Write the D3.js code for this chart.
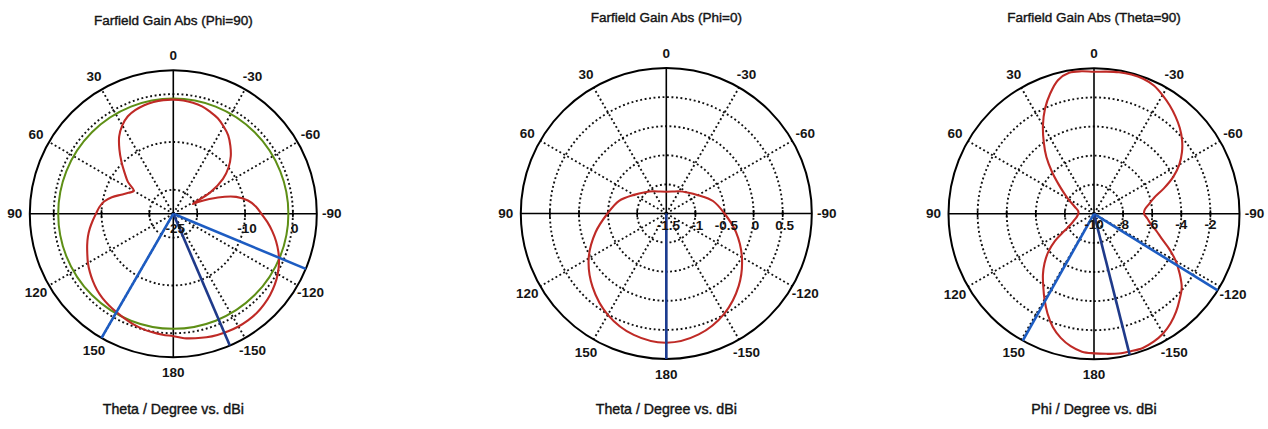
<!DOCTYPE html>
<html>
<head>
<meta charset="utf-8">
<script src="https://cdn.jsdelivr.net/npm/d3@7"></script>
<style>
  html, body { margin: 0; padding: 0; background: #ffffff; }
  svg { display: block; }
  text { font-family: "Liberation Sans", Arial, sans-serif; fill: #141414; }
  text.cap { stroke: #141414; stroke-width: 0.4; }
  text.num { font-weight: bold; }
</style>
</head>
<body>
<svg id="chart" width="1268" height="429"></svg>
<script>
// ---- Farfield cut Phi = 90 (theta in degrees, gain in dBi) ----
const phi90Theta = [0, 5, 10, 15, 20, 25, 30, 35, 40, 45, 50, 55, 60, 65, 70, 75, 80, 85, 90,
  95, 100, 105, 110, 115, 120, 125, 130, 135, 140, 145, 150, 155, 160, 165, 170, 175, 180,
  -175, -170, -165, -160, -155, -150, -145, -140, -135, -130, -125, -120, -115, -110, -105, -100, -95, -90,
  -85, -80, -75, -70, -65, -63.4, -60, -55, -50, -45, -40, -35, -30, -25, -20, -15, -10, -5];
const phi90Gain = [-1.16, -1.16, -1.27, -1.51, -1.92, -2.53, -3.67, -5.28, -7.47, -9.67, -11.72, -13.41, -15.48, -14.68, -13.40, -11.70, -10.31, -9.46, -8.84,
  -8.08, -7.28, -6.52, -5.84, -5.16, -4.39, -3.71, -3.06, -2.45, -1.97, -1.59, -1.25, -0.85, -0.42, -0.07, 0.17, 0.40, 0.61,
  1.13, 1.44, 1.75, 1.97, 2.12, 2.22, 2.22, 2.13, 1.83, 1.42, 0.89, 0.21, -0.62, -1.62, -2.76, -4.00, -5.28, -6.60,
  -7.68, -9.16, -11.39, -15.08, -19.07, -20.46, -16.00, -12.32, -9.90, -8.01, -6.45, -4.99, -3.95, -2.99, -2.36, -1.78, -1.44, -1.23];
const phi90Grid = [-20, -10, 0];
const phi90TickLabels = [-25, -10, 0];
const phi90Beams = [-112.6, -156.8, 150];
const phi90RefLevel = [-0.94];

// ---- Farfield cut Phi = 0 ----
const phi0Theta = [0, 15, 30, 45, 60, 75, 90, 105, 120, 135, 150, 165, 180,
  -165, -150, -135, -120, -105, -90, -75, -60, -45, -30, -15];
const phi0Gain = [-1.125, -1.11, -1.06, -0.985, -0.86, -0.66, -0.49, -0.24, 0.04, 0.29, 0.51, 0.66, 0.72,
  0.65, 0.49, 0.26, 0.0, -0.26, -0.50, -0.67, -0.87, -0.99, -1.06, -1.11];
const phi0Grid = [-1, -0.5, 0, 0.5];
const phi0TickLabels = [-1.5, -1, -0.5, 0, 0.5];
const phi0Beams = [180];

// ---- Farfield cut Theta = 90 (phi in degrees) ----
const theta90Phi = [0, 5, 10, 15, 20, 25, 30, 35, 40, 45, 50, 55, 60, 70, 80, 90, 100, 108, 115, 120,
  125, 130, 135, 140, 145, 150, 155, 160, 165, 170, 175, 180,
  -175, -170, -165, -160, -155, -150, -145, -140, -135, -130, -125, -120, -115, -110, -105, -100, -95, -90,
  -85, -80, -75, -70, -65, -60, -55, -50, -45, -40, -35, -30, -25, -20, -15, -10, -5];
const theta90Gain = [-0.24, -0.17, -0.16, -0.48, -1.20, -2.03, -2.98, -3.98, -4.91, -5.91, -6.80, -7.46, -7.94, -8.59, -8.90, -8.92, -8.80, -8.56, -8.21, -7.66,
  -6.70, -5.88, -5.19, -4.54, -3.92, -3.20, -2.44, -1.72, -1.17, -0.76, -0.49, -0.41,
  -0.34, -0.25, -0.22, -0.19, -0.30, -0.50, -0.82, -1.22, -1.68, -2.13, -2.81, -3.51, -4.30, -5.06, -5.59, -6.05, -6.32, -6.56,
  -6.49, -6.16, -5.72, -4.89, -3.99, -3.23, -2.62, -2.10, -1.66, -1.28, -0.92, -0.58, -0.27, -0.12, -0.09, -0.12, -0.19];
const theta90Grid = [-8, -6, -4, -2];
const theta90TickLabels = [-10, -8, -6, -4, -2];
const theta90Beams = [-121.8, -165.8, 150.7];

// ---- Shared angular labels ----
const angleLabels = [0, 30, 60, 90, 120, 150, 180, -150, -120, -90, -60, -30];
const spokeAngles = [30, 60, 120, 150, -30, -60, -120, -150];

const svg = d3.select("#chart");
const rad = deg => -deg * Math.PI / 180;   // counter-clockwise degrees -> d3 radial angle

function drawPanel(p) {
  const g = svg.append("g").attr("transform", `translate(${p.cx},${p.cy})`);
  const r = d3.scaleLinear().domain(p.domain).range([0, p.R]);
  const pos = (deg, rr) => [rr * Math.sin(rad(deg)), -rr * Math.cos(rad(deg))];

  // dotted grid circles
  g.selectAll("circle.grid").data(p.grid).join("circle")
    .attr("class", "grid").attr("r", d => r(d))
    .attr("fill", "none").attr("stroke", "#111").attr("stroke-width", 1.9)
    .attr("stroke-dasharray", "1.9,2.6");

  // dotted spokes
  g.selectAll("line.spoke").data(spokeAngles).join("line")
    .attr("class", "spoke")
    .attr("x1", 0).attr("y1", 0)
    .attr("x2", d => pos(d, p.R)[0]).attr("y2", d => pos(d, p.R)[1])
    .attr("stroke", "#111").attr("stroke-width", 1.9)
    .attr("stroke-dasharray", "1.9,2.6");

  // solid axes
  g.append("line").attr("x1", -p.R).attr("x2", p.R).attr("y1", 0).attr("y2", 0)
    .attr("stroke", "#000").attr("stroke-width", 1.6);
  g.append("line").attr("x1", 0).attr("x2", 0).attr("y1", -p.R).attr("y2", p.R)
    .attr("stroke", "#000").attr("stroke-width", 1.6);

  // outer boundary
  g.append("circle").attr("r", p.R).attr("fill", "none")
    .attr("stroke", "#000").attr("stroke-width", 2);

  // tick marks on horizontal axis
  const tickPos = p.grid.flatMap(v => [r(v), -r(v)]);
  g.selectAll("line.tick").data(tickPos).join("line")
    .attr("class", "tick")
    .attr("x1", d => d).attr("x2", d => d).attr("y1", -3.5).attr("y2", 3.5)
    .attr("stroke", "#000").attr("stroke-width", 1.6);

  // reference level circle
  if (p.ref) {
    g.selectAll("circle.ref").data(p.ref).join("circle")
      .attr("class", "ref").attr("r", d => r(d))
      .attr("fill", "none").attr("stroke", "#5e8f16").attr("stroke-width", 2);
  }

  // pattern
  const pts = p.theta.map((t, i) => ({ a: ((t % 360) + 360) % 360, v: p.gain[i] }))
    .sort((a, b) => a.a - b.a);
  const line = d3.lineRadial()
    .angle(d => rad(d.a))
    .radius(d => r(d.v))
    .curve(d3.curveCatmullRomClosed.alpha(0.5));
  g.append("path").attr("d", line(pts))
    .attr("fill", "none").attr("stroke", "#bf2a26").attr("stroke-width", 2.1)
    .attr("stroke-linejoin", "round");

  // beam direction / width lines
  g.selectAll("line.beam").data(p.beams).join("line")
    .attr("class", "beam")
    .attr("x1", 0).attr("y1", 0)
    .attr("x2", d => pos(d, p.R)[0]).attr("y2", d => pos(d, p.R)[1])
    .attr("stroke", (d, i) => p.beamColors[i]).attr("stroke-width", 2.6);

  // radial tick labels
  g.selectAll("text.tl").data(p.tickLabels).join("text")
    .attr("class", "tl num")
    .attr("x", d => r(d) + p.labelDx).attr("y", p.labelDy)
    .attr("text-anchor", "middle").attr("dominant-baseline", "central")
    .attr("font-size", 13.5).text(d => d);

  // angular labels
  g.selectAll("text.al").data(angleLabels).join("text")
    .attr("class", "al num")
    .attr("x", d => pos(d, p.R + 15)[0]).attr("y", d => pos(d, p.R + 15)[1])
    .attr("text-anchor", "middle").attr("dominant-baseline", "central")
    .attr("font-size", 13.5).text(d => d);

  // title and axis caption
  svg.append("text").attr("class", "cap").attr("x", p.cx).attr("y", p.titleY)
    .attr("text-anchor", "middle").attr("font-size", 13.5).text(p.title);
  svg.append("text").attr("class", "cap").attr("x", p.cx).attr("y", 414)
    .attr("text-anchor", "middle").attr("font-size", 14.2).text(p.caption);
}

drawPanel({
  cx: 173.3, cy: 213.7, R: 143.5, domain: [-25, 5],
  grid: phi90Grid, tickLabels: phi90TickLabels, labelDx: 2, labelDy: 15,
  theta: phi90Theta, gain: phi90Gain, ref: phi90RefLevel,
  beams: phi90Beams, beamColors: ["#1d5cc2", "#1f3a8a", "#1d5cc2"],
  title: "Farfield Gain Abs (Phi=90)", titleY: 25, caption: "Theta / Degree vs. dBi"
});
drawPanel({
  cx: 666.3, cy: 213.5, R: 145.5, domain: [-1.5, 1.0],
  grid: phi0Grid, tickLabels: phi0TickLabels, labelDx: 2, labelDy: 11.5,
  theta: phi0Theta, gain: phi0Gain, ref: null,
  beams: phi0Beams, beamColors: ["#1c3c90"],
  title: "Farfield Gain Abs (Phi=0)", titleY: 22, caption: "Theta / Degree vs. dBi"
});
drawPanel({
  cx: 1094, cy: 213.8, R: 145.5, domain: [-10, 0],
  grid: theta90Grid, tickLabels: theta90TickLabels, labelDx: 0, labelDy: 10.5,
  theta: theta90Phi, gain: theta90Gain, ref: null,
  beams: theta90Beams, beamColors: ["#1d5cc2", "#1f3a8a", "#1d5cc2"],
  title: "Farfield Gain Abs (Theta=90)", titleY: 22, caption: "Phi / Degree vs. dBi"
});
</script>
</body>
</html>
